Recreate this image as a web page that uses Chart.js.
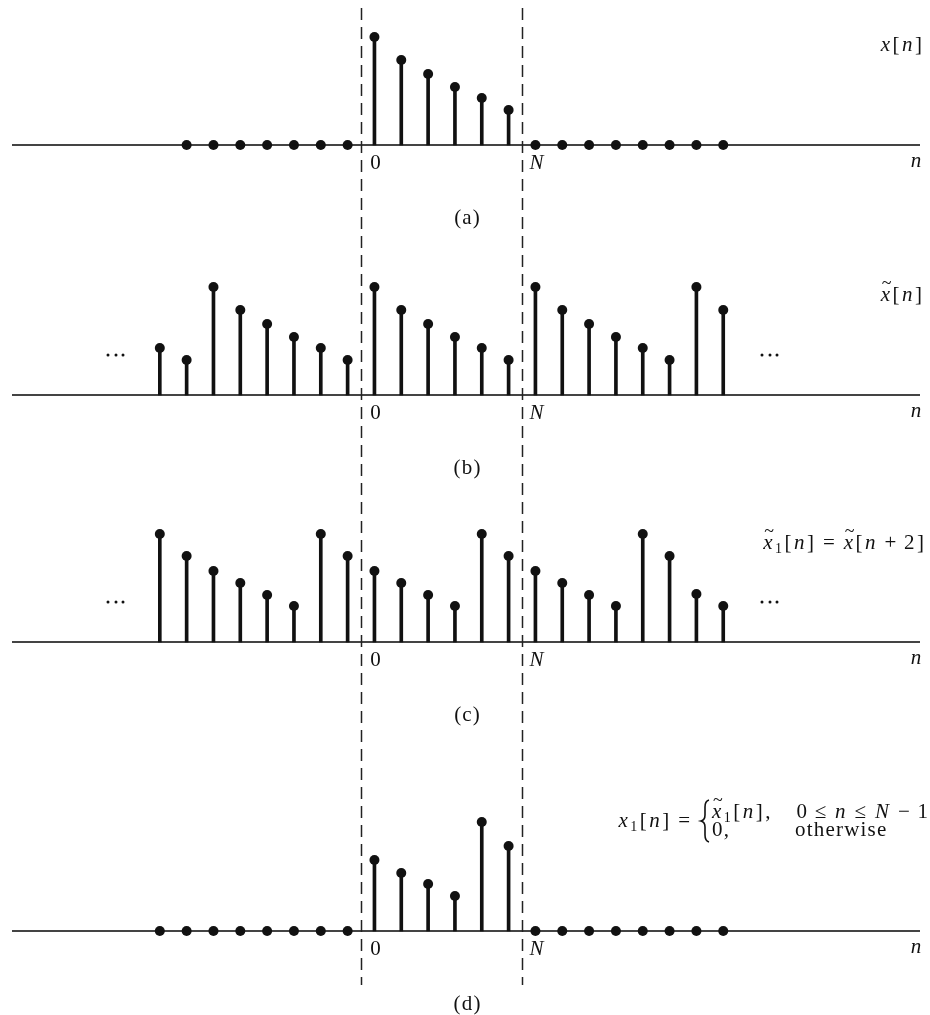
<!DOCTYPE html>
<html>
<head>
<meta charset="utf-8">
<script src="https://cdn.jsdelivr.net/npm/chart.js@4.4.0/dist/chart.umd.min.js"></script>
<style>
  html, body { margin: 0; padding: 0; background: #fff; }
</style>
</head>
<body>
<canvas id="stems" width="930" height="1015"></canvas>
<script>
// sample index n, shared by all four panels
const nIdx = [-8,-7,-6,-5,-4,-3,-2,-1,0,1,2,3,4,5,6,7,8,9,10,11,12,13];
// (a) x[n]  (null = no sample drawn)
const xA = [null,0,0,0,0,0,0,0,108,85,71,58,47,35,0,0,0,0,0,0,0,0];
// (b) periodic extension x~[n]
const xB = [47,35,108,85,71,58,47,35,108,85,71,58,47,35,108,85,71,58,47,35,108,85];
// (c) x~1[n] = x~[n+2]
const xC = [108,86,71,59,47,36,108,86,71,59,47,36,108,86,71,59,47,36,108,86,48,36];
// (d) x1[n], one period of (c)
const xD = [0,0,0,0,0,0,0,0,71,58,47,35,109,85,0,0,0,0,0,0,0,0];

const tickNames = ['0', 'N'];
const tickAt = [0, 6];
const edges = [-0.5, 5.5];
const panelNames = ['(a)', '(b)', '(c)', '(d)'];

const SERIF = '"Liberation Serif", "Times New Roman", serif';
const INK = '#111';

// layout of the figure (pixels)
const areaTop = 8, areaBottom = 985, canvasH = 1015;
const baselines = [145, 395, 642, 931];
const axisIds = ['ya', 'yb', 'yc', 'yd'];
const series = [xA, xB, xC, xD];

const pts = arr => nIdx.map((n, i) => ({ x: n, y: arr[i] }));

const datasets = [];
series.forEach((arr, i) => {
  datasets.push({
    type: 'bar', data: pts(arr), yAxisID: axisIds[i],
    backgroundColor: INK, barThickness: 3, grouped: false, borderWidth: 0
  });
  datasets.push({
    type: 'scatter', data: pts(arr), yAxisID: axisIds[i],
    pointRadius: 5, pointBackgroundColor: INK, pointBorderWidth: 0, showLine: false
  });
});

const scales = {
  x: { type: 'linear', min: -13.77, max: 20.52, display: false, offset: false },
  y: { display: false }
};
axisIds.forEach((id, i) => {
  const mx = baselines[i] - areaTop;
  scales[id] = { type: 'linear', display: false, max: mx, min: mx - (areaBottom - areaTop) };
});

const FS = 21, GAP = 2.5, LS = 1.2;

// width of a string drawn glyph by glyph with extra spacing LS
function spacedWidth(ctx, t) {
  let w = 0;
  for (const ch of t) w += ctx.measureText(ch).width + LS;
  return w - LS;
}
function spacedText(ctx, t, x, y) {
  for (const ch of t) {
    ctx.fillText(ch, x, y);
    x += ctx.measureText(ch).width + LS;
  }
}

function drawRich(ctx, parts, x, y, align) {
  const fontFor = (st, sz) => (st.includes('i') ? 'italic ' : '') + sz + 'px ' + SERIF;
  const items = parts.map(([t, st]) => {
    const sub = st.includes('s');
    const sz = sub ? Math.round(FS * 0.68) : FS;
    ctx.font = fontFor(st, sz);
    return { t, st, sz, w: spacedWidth(ctx, t), dy: sub ? FS * 0.3 : 0 };
  });
  const total = items.reduce((a, b) => a + b.w, 0) + GAP * (items.length - 1);
  let cx = align === 'right' ? x - total : align === 'center' ? x - total / 2 : x;
  ctx.textBaseline = 'middle';
  ctx.textAlign = 'left';
  items.forEach(it => {
    ctx.font = fontFor(it.st, it.sz);
    spacedText(ctx, it.t, cx, y + it.dy);
    if (it.st.includes('t')) {
      ctx.font = Math.round(FS * 0.85) + 'px ' + SERIF;
      const tw = ctx.measureText('~').width;
      ctx.fillText('~', cx + it.w / 2 - tw / 2 + FS * 0.06, y - FS * 0.5);
    }
    cx += it.w + GAP;
  });
}

const figurePlugin = {
  id: 'figure',
  beforeDatasetsDraw(chart) {
    const { ctx, chartArea, scales } = chart;
    ctx.save();
    // horizontal n axes
    ctx.strokeStyle = '#444';
    ctx.lineWidth = 2;
    axisIds.forEach(id => {
      const y = scales[id].getPixelForValue(0);
      ctx.beginPath();
      ctx.moveTo(12, y);
      ctx.lineTo(920, y);
      ctx.stroke();
    });
    // dashed boundaries at 0 and N
    ctx.strokeStyle = '#222';
    ctx.lineWidth = 1.5;
    ctx.setLineDash([12, 7]);
    edges.forEach(v => {
      const x = Math.round(scales.x.getPixelForValue(v)) + 0.5;
      ctx.beginPath();
      ctx.moveTo(x, chartArea.top);
      ctx.lineTo(x, chartArea.bottom);
      ctx.stroke();
    });
    ctx.restore();
  },
  afterDraw(chart) {
    const { ctx, scales } = chart;
    ctx.save();
    ctx.fillStyle = INK;
    ctx.strokeStyle = INK;
    axisIds.forEach((id, i) => {
      const y0 = scales[id].getPixelForValue(0);
      // tick names 0 and N
      tickNames.forEach((t, k) => {
        const x = scales.x.getPixelForValue(tickAt[k]) + 1;
        drawRich(ctx, [[t, k === 1 ? 'i' : 'r']], x, y0 + 18, 'center');
      });
      // n at the right end of the axis
      drawRich(ctx, [['n', 'i']], 916, y0 + 16, 'center');
      // panel caption
      drawRich(ctx, [[panelNames[i], 'r']], 467, y0 + 73, 'center');
    });

    const ya = scales.ya.getPixelForValue(0);
    const yb = scales.yb.getPixelForValue(0);
    const yc = scales.yc.getPixelForValue(0);
    const yd = scales.yd.getPixelForValue(0);

    drawRich(ctx, [['x', 'i'], ['[', 'r'], ['n', 'i'], [']', 'r']], 922, ya - 100, 'right');
    drawRich(ctx, [['x', 'it'], ['[', 'r'], ['n', 'i'], [']', 'r']], 922, yb - 100, 'right');
    drawRich(ctx, [['x', 'it'], ['1', 's'], ['[', 'r'], ['n', 'i'], [']', 'r'], [' = ', 'r'],
                   ['x', 'it'], ['[', 'r'], ['n', 'i'], [' + 2', 'r'], [']', 'r']], 924, yc - 99, 'right');

    // (d) definition
    drawRich(ctx, [['x', 'i'], ['1', 's'], ['[', 'r'], ['n', 'i'], [']', 'r'], [' =', 'r']], 690, yd - 110, 'right');
    // brace
    ctx.lineWidth = 1.6;
    ctx.beginPath();
    const bx = 705, by = yd - 110;
    ctx.moveTo(bx + 4, by - 21);
    ctx.quadraticCurveTo(bx, by - 20, bx, by - 14);
    ctx.lineTo(bx, by - 6);
    ctx.quadraticCurveTo(bx, by - 1, bx - 4, by);
    ctx.quadraticCurveTo(bx, by + 1, bx, by + 6);
    ctx.lineTo(bx, by + 14);
    ctx.quadraticCurveTo(bx, by + 20, bx + 4, by + 21);
    ctx.stroke();
    drawRich(ctx, [['x', 'it'], ['1', 's'], ['[', 'r'], ['n', 'i'], [']', 'r'], [',', 'r']], 712, yd - 119, 'left');
    drawRich(ctx, [['0 \u2264 ', 'r'], ['n', 'i'], [' \u2264 ', 'r'], ['N', 'i'], [' \u2212 1', 'r']], 928, yd - 119, 'right');
    drawRich(ctx, [['0,', 'r']], 712, yd - 101, 'left');
    drawRich(ctx, [['otherwise', 'r']], 795, yd - 101, 'left');

    // continuation dots in (b) and (c)
    [yb, yc].forEach(y0 => {
      [108, 116, 123, 762, 770, 777].forEach(x => {
        ctx.beginPath();
        ctx.arc(x, y0 - 40, 1.5, 0, Math.PI * 2);
        ctx.fill();
      });
    });
    ctx.restore();
  }
};

new Chart(document.getElementById('stems'), {
  type: 'scatter',
  data: { datasets },
  options: {
    responsive: false,
    devicePixelRatio: 1,
    animation: false,
    layout: { padding: { top: areaTop, bottom: canvasH - areaBottom, left: 0, right: 0 } },
    plugins: { legend: { display: false }, tooltip: { enabled: false } },
    scales
  },
  plugins: [figurePlugin]
});
</script>
</body>
</html>
